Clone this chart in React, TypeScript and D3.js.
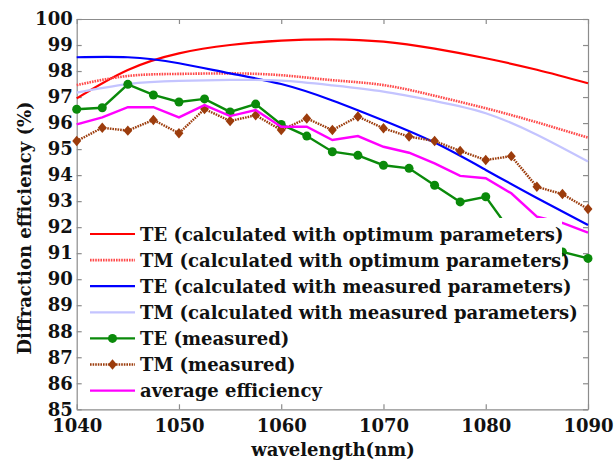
import React, { useEffect, useRef } from "react";
import * as d3 from "d3";

// calculated curves, sampled every 5 nm
const wlCalc = [1040, 1045, 1050, 1055, 1060, 1065, 1070, 1075, 1080, 1085, 1090];
const teOpt = [96.95, 98.04, 98.68, 99.0, 99.17, 99.22, 99.13, 98.86, 98.49, 98.05, 97.53];
const tmOpt = [97.46, 97.81, 97.89, 97.91, 97.84, 97.65, 97.46, 97.05, 96.57, 96.03, 95.44];
const teCalcMeas = [98.53, 98.53, 98.3, 97.91, 97.5, 96.87, 96.1, 95.25, 94.2, 93.12, 92.08];
const tmCalcMeas = [97.17, 97.5, 97.62, 97.66, 97.63, 97.45, 97.21, 96.85, 96.38, 95.55, 94.52];

// measured points, every 2.5 nm
const wlMeas = [
  1040, 1042.5, 1045, 1047.5, 1050, 1052.5, 1055, 1057.5, 1060, 1062.5, 1065,
  1067.5, 1070, 1072.5, 1075, 1077.5, 1080, 1082.5, 1085, 1087.5, 1090,
];
const teMeas = [
  96.53, 96.59, 97.49, 97.08, 96.81, 96.93, 96.43, 96.73, 95.95, 95.5, 94.9,
  94.76, 94.38, 94.26, 93.61, 92.97, 93.17, 91.8, 91.25, 91.05, 90.8,
];
const tmMeas = [
  95.31, 95.82, 95.71, 96.12, 95.61, 96.54, 96.08, 96.3, 95.73, 96.18, 95.73,
  96.25, 95.8, 95.48, 95.31, 94.93, 94.58, 94.73, 93.55, 93.27, 92.7,
];
const avgEff = [
  95.95, 96.22, 96.61, 96.61, 96.22, 96.69, 96.27, 96.5, 95.86, 95.86, 95.35,
  95.5, 95.09, 94.86, 94.45, 93.97, 93.88, 93.3, 92.4, 92.16, 91.79,
];

const xTicks = [1040, 1050, 1060, 1070, 1080, 1090];
const yTicks = d3.range(85, 101, 1);

const legendLabels = [
  "TE (calculated with optimum parameters)",
  "TM (calculated with optimum parameters)",
  "TE (calculated with measured parameters)",
  "TM (calculated with measured parameters)",
  "TE (measured)",
  "TM (measured)",
  "average efficiency",
];

const FONT = "'DejaVu Serif', serif";
const FS = "18px";

const App = () => {
  const svgRef = useRef<SVGSVGElement>(null);

  useEffect(() => {
    const svg = d3.select(svgRef.current);
    svg.selectAll("*").remove();

    const width = 614;
    const height = 462;
    const margin = { top: 19, right: 26, bottom: 52.7, left: 76.7 };

    const x = d3
      .scaleLinear()
      .domain([1040, 1090])
      .range([margin.left, width - margin.right]);
    const y = d3
      .scaleLinear()
      .domain([85, 100])
      .range([height - margin.bottom, margin.top]);

    // styles per series
    const styles = [
      { color: "#ff0000", width: 2.2, dash: null },
      { color: "#ff4a4a", width: 2.6, dash: "1.6,1" },
      { color: "#0000ff", width: 2.2, dash: null },
      { color: "#c4c4ff", width: 2.2, dash: null },
      { color: "#0a8a0a", width: 2.4, dash: null },
      { color: "#9c3c0c", width: 2.4, dash: "1.6,1" },
      { color: "#ff00ff", width: 2.4, dash: null },
    ];

    const smooth = d3
      .line<number>()
      .x((_, i) => x(wlCalc[i]))
      .y((d) => y(d))
      .curve(d3.curveNatural);
    const poly = d3
      .line<number>()
      .x((_, i) => x(wlMeas[i]))
      .y((d) => y(d));

    // axes box
    const axisColor = "#8c8c8c";
    const fmt = d3.format("d");
    const gAxes = svg.append("g");
    const bottom = gAxes
      .append("g")
      .attr("transform", `translate(0,${y(85)})`)
      .call(
        d3.axisBottom(x).tickValues(xTicks).tickFormat(fmt).tickSizeInner(-5).tickSizeOuter(0).tickPadding(10)
      );
    const left = gAxes
      .append("g")
      .attr("transform", `translate(${x(1040)},0)`)
      .call(
        d3.axisLeft(y).tickValues(yTicks).tickFormat(fmt).tickSizeInner(-5).tickSizeOuter(0).tickPadding(4)
      );
    gAxes
      .append("g")
      .attr("transform", `translate(0,${y(100)})`)
      .call(d3.axisTop(x).tickValues(xTicks).tickSizeInner(-5).tickSizeOuter(0).tickFormat(() => ""));
    gAxes
      .append("g")
      .attr("transform", `translate(${x(1090)},0)`)
      .call(d3.axisRight(y).tickValues(yTicks).tickSizeInner(-5).tickSizeOuter(0).tickFormat(() => ""));
    gAxes.selectAll("path, line").attr("stroke", axisColor).attr("stroke-width", 1.2);
    [bottom, left].forEach((g) =>
      g
        .selectAll("text")
        .attr("fill", "#111")
        .style("font-family", FONT)
        .style("font-weight", "bold")
        .style("font-size", FS)
    );

    // calculated curves
    [teOpt, tmOpt, teCalcMeas, tmCalcMeas].forEach((s, i) => {
      svg
        .append("path")
        .attr("d", smooth(s))
        .attr("fill", "none")
        .attr("stroke", styles[i].color)
        .attr("stroke-width", styles[i].width)
        .attr("stroke-dasharray", styles[i].dash);
    });

    // measured TE
    svg
      .append("path")
      .attr("d", poly(teMeas))
      .attr("fill", "none")
      .attr("stroke", styles[4].color)
      .attr("stroke-width", styles[4].width);
    svg
      .append("g")
      .selectAll("circle")
      .data(teMeas)
      .join("circle")
      .attr("cx", (_, i) => x(wlMeas[i]))
      .attr("cy", (d) => y(d))
      .attr("r", 4.5)
      .attr("fill", styles[4].color);

    // measured TM
    const diamond = d3.symbol(d3.symbolDiamond2, 70);
    svg
      .append("path")
      .attr("d", poly(tmMeas))
      .attr("fill", "none")
      .attr("stroke", styles[5].color)
      .attr("stroke-width", styles[5].width)
      .attr("stroke-dasharray", styles[5].dash);
    svg
      .append("g")
      .selectAll("path")
      .data(tmMeas)
      .join("path")
      .attr("d", diamond)
      .attr("transform", (d, i) => `translate(${x(wlMeas[i])},${y(d)}) scale(0.85,1)`)
      .attr("fill", styles[5].color);

    // average
    svg
      .append("path")
      .attr("d", poly(avgEff))
      .attr("fill", "none")
      .attr("stroke", styles[6].color)
      .attr("stroke-width", styles[6].width);

    // legend
    const leg = svg.append("g");
    leg
      .append("rect")
      .attr("x", 82)
      .attr("y", 218)
      .attr("width", 480)
      .attr("height", 186)
      .attr("fill", "#fff");
    const rowH = 26.1;
    legendLabels.forEach((label, i) => {
      const cy = 234 + i * rowH;
      const st = styles[i];
      leg
        .append("line")
        .attr("x1", 90)
        .attr("x2", 135)
        .attr("y1", cy)
        .attr("y2", cy)
        .attr("stroke", st.color)
        .attr("stroke-width", st.width)
        .attr("stroke-dasharray", st.dash);
      if (i === 4) {
        leg.append("circle").attr("cx", 112.5).attr("cy", cy).attr("r", 4.5).attr("fill", st.color);
      }
      if (i === 5) {
        leg
          .append("path")
          .attr("d", diamond())
          .attr("transform", `translate(112.5,${cy}) scale(0.85,1)`)
          .attr("fill", st.color);
      }
      leg
        .append("text")
        .attr("x", 140)
        .attr("y", cy + 6.5)
        .attr("fill", "#111")
        .style("font-family", FONT)
        .style("font-weight", "bold")
        .style("font-size", FS)
        .text(label);
    });

    // axis titles
    svg
      .append("text")
      .attr("x", 333)
      .attr("y", 456)
      .attr("text-anchor", "middle")
      .attr("fill", "#111")
      .style("font-family", FONT)
      .style("font-weight", "bold")
      .style("font-size", FS)
      .text("wavelength(nm)");
    svg
      .append("text")
      .attr("transform", `translate(31,228) rotate(-90)`)
      .attr("text-anchor", "middle")
      .attr("fill", "#111")
      .style("font-family", FONT)
      .style("font-weight", "bold")
      .style("font-size", FS)
      .text("Diffraction efficiency (%)");
  }, []);

  return (
    <svg
      ref={svgRef}
      width="614"
      height="462"
      style={{ position: "absolute", left: 0, top: 0, background: "#fff" }}
    ></svg>
  );
};

export default App;
